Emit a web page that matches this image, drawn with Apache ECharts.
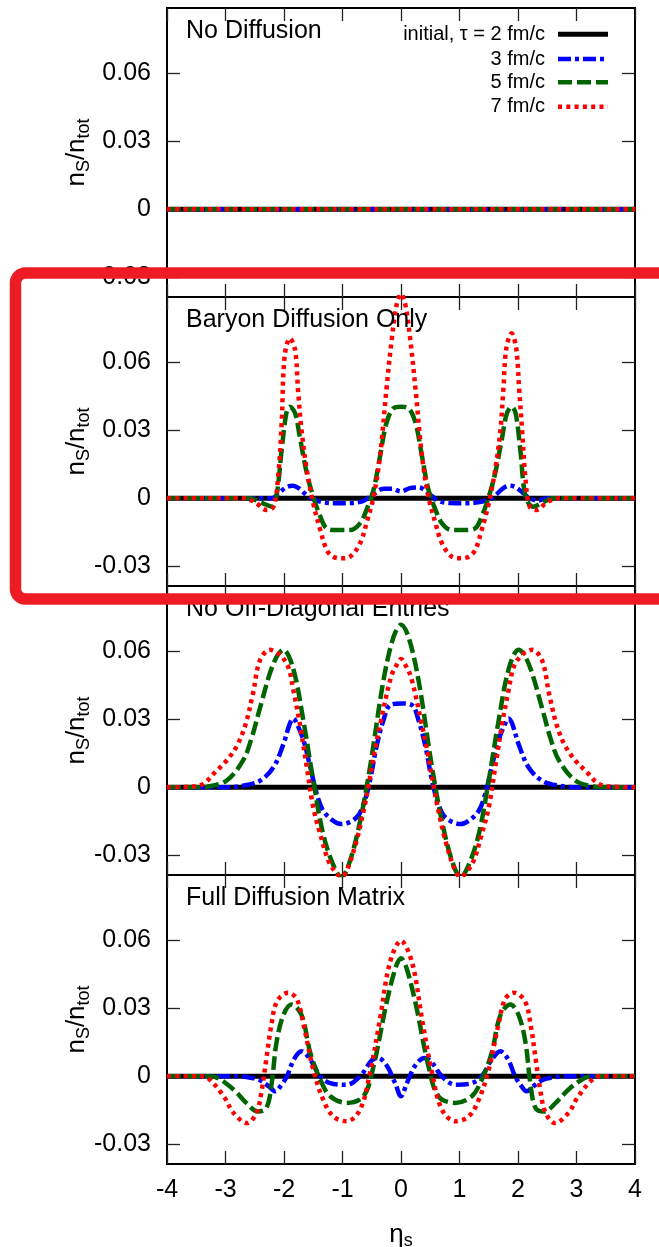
<!DOCTYPE html>
<html><head><meta charset="utf-8">
<script src="https://cdn.jsdelivr.net/npm/echarts@6/dist/echarts.min.js"></script>
<style>html,body{margin:0;padding:0;background:#fff}#c{width:659px;height:1247px}</style>
</head><body><div id="c"></div>
<script>
// ---------- data ----------
const panelTitles = ['No Diffusion', 'Baryon Diffusion Only', 'No Off-Diagonal Entries', 'Full Diffusion Matrix'];
const legendLabels = ['initial, \u03c4 = 2 fm/c', '3 fm/c', '5 fm/c', '7 fm/c'];
const xTicks = [-4, -3, -2, -1, 0, 1, 2, 3, 4];
const yTicks = [-0.03, 0, 0.03, 0.06];

// initial condition (tau = 2 fm/c) is zero everywhere in every panel
const initialZero = [[-4, 0], [4, 0]];

// Panel 1: No Diffusion
const noDiff3 = [[-4, 0], [4, 0]];
const noDiff5 = [[-4, 0], [4, 0]];
const noDiff7 = [[-4, 0], [4, 0]];

// Panel 2: Baryon Diffusion Only
const bar3 = [[-4,0],[-2.4,0],[-2.2,0],[-2.08,0.0025],[-1.95,0.005],[-1.85,0.0055],[-1.75,0.0045],[-1.62,0.0015],[-1.5,-0.0005],[-1.32,-0.0018],[-1.1,-0.0022],[-0.85,-0.0021],[-0.65,-0.0012],[-0.5,0.0012],[-0.3,0.0042],[-0.15,0.0042],[0,0.003],[0.15,0.0045],[0.3,0.0048],[0.5,0.0015],[0.65,-0.0012],[0.85,-0.0021],[1.1,-0.0022],[1.32,-0.0018],[1.5,-0.0005],[1.62,0.0015],[1.75,0.0045],[1.85,0.0055],[1.95,0.005],[2.08,0.0025],[2.2,0],[2.35,-0.001],[2.5,0],[4,0]];
const bar5 = [[-4,0],[-2.6,0],[-2.36,-0.0022],[-2.21,-0.0037],[-2.13,0.0007],[-2.04,0.0212],[-1.96,0.0374],[-1.9,0.0403],[-1.81,0.0374],[-1.73,0.027],[-1.61,0.011],[-1.5,0.0007],[-1.38,-0.008],[-1.27,-0.0132],[-1.1,-0.014],[-0.87,-0.014],[-0.7,-0.011],[-0.59,-0.0051],[-0.47,0.0037],[-0.36,0.0183],[-0.25,0.033],[-0.13,0.0396],[0,0.0403],[0.13,0.0396],[0.25,0.033],[0.36,0.0183],[0.47,0.0037],[0.59,-0.0051],[0.7,-0.011],[0.87,-0.014],[1.1,-0.014],[1.27,-0.0132],[1.38,-0.008],[1.5,0.0007],[1.61,0.011],[1.73,0.027],[1.81,0.0374],[1.89,0.0403],[1.96,0.0374],[2.04,0.0212],[2.13,0.0007],[2.26,-0.0037],[2.4,-0.0022],[2.6,0],[4,0]];
const bar7 = [[-4,0],[-2.7,0],[-2.55,-0.001],[-2.47,-0.0022],[-2.3,-0.0051],[-2.18,-0.0037],[-2.1,0.0095],[-2.04,0.033],[-1.99,0.0623],[-1.9,0.0704],[-1.81,0.0652],[-1.76,0.0476],[-1.7,0.0301],[-1.61,0.0125],[-1.5,-0.0022],[-1.38,-0.0139],[-1.27,-0.0227],[-1.16,-0.0257],[-1.01,-0.0264],[-0.87,-0.0257],[-0.7,-0.0198],[-0.59,-0.011],[-0.47,0.0006],[-0.36,0.0183],[-0.25,0.0476],[-0.16,0.0696],[-0.07,0.0858],[0,0.09],[0.07,0.0858],[0.16,0.0696],[0.25,0.0476],[0.36,0.0183],[0.47,0.0006],[0.59,-0.011],[0.7,-0.0198],[0.87,-0.0257],[1.01,-0.0264],[1.16,-0.0257],[1.27,-0.0227],[1.38,-0.0139],[1.5,-0.0022],[1.61,0.0125],[1.7,0.0301],[1.75,0.048],[1.8,0.066],[1.89,0.0726],[1.97,0.066],[2.02,0.048],[2.07,0.03],[2.13,0.008],[2.2,-0.0037],[2.32,-0.0051],[2.47,-0.0022],[2.55,-0.001],[2.7,0],[4,0]];

// Panel 3: No Off-Diagonal Entries
const nod3 = [[-4,0],[-3,0],[-2.7,0.0007],[-2.41,0.0029],[-2.18,0.0088],[-2.01,0.019],[-1.9,0.028],[-1.84,0.0303],[-1.78,0.028],[-1.66,0.0201],[-1.55,0.0088],[-1.44,-0.0029],[-1.33,-0.0103],[-1.16,-0.0147],[-1.02,-0.0162],[-0.76,-0.0133],[-0.64,-0.0074],[-0.53,0.003],[-0.42,0.0177],[-0.3,0.0295],[-0.19,0.0361],[0,0.0369],[0.19,0.0361],[0.3,0.0295],[0.42,0.0177],[0.53,0.003],[0.64,-0.0074],[0.76,-0.0133],[1.02,-0.0162],[1.16,-0.0147],[1.33,-0.0103],[1.44,-0.0029],[1.55,0.0088],[1.66,0.0201],[1.78,0.028],[1.84,0.0303],[1.9,0.028],[2.01,0.019],[2.18,0.0088],[2.41,0.0029],[2.7,0.0007],[3,0],[4,0]];
const nod5 = [[-4,0],[-3.5,0],[-3.31,0.0003],[-2.98,0.003],[-2.7,0.0118],[-2.55,0.022],[-2.41,0.035],[-2.18,0.0545],[-2.01,0.0605],[-1.84,0.052],[-1.66,0.028],[-1.5,0.003],[-1.33,-0.0206],[-1.16,-0.034],[-1.02,-0.0395],[-0.88,-0.033],[-0.7,-0.015],[-0.53,0.0088],[-0.3,0.047],[-0.13,0.066],[0,0.0715],[0.13,0.066],[0.3,0.047],[0.53,0.0088],[0.7,-0.015],[0.88,-0.033],[1.02,-0.0395],[1.16,-0.034],[1.33,-0.0206],[1.5,0.003],[1.66,0.028],[1.84,0.052],[2.01,0.0605],[2.18,0.0545],[2.41,0.035],[2.55,0.022],[2.7,0.0118],[2.98,0.003],[3.31,0.0003],[3.5,0],[4,0]];
const nod7 = [[-4,0],[-3.6,0.0003],[-3.38,0.0015],[-3.18,0.0066],[-2.98,0.0118],[-2.8,0.0185],[-2.66,0.0275],[-2.53,0.0413],[-2.41,0.056],[-2.24,0.0605],[-2.07,0.0583],[-1.93,0.0532],[-1.84,0.0428],[-1.73,0.028],[-1.61,0.0088],[-1.5,-0.0088],[-1.38,-0.0206],[-1.24,-0.0324],[-1.1,-0.038],[-1.02,-0.0395],[-0.93,-0.0369],[-0.76,-0.0236],[-0.64,-0.0103],[-0.56,0],[-0.45,0.016],[-0.34,0.0295],[-0.17,0.0486],[-0.06,0.0545],[0,0.0565],[0.06,0.0545],[0.17,0.0486],[0.34,0.0295],[0.45,0.016],[0.56,0],[0.64,-0.0103],[0.76,-0.0236],[0.93,-0.0369],[1.02,-0.0395],[1.1,-0.038],[1.24,-0.0324],[1.38,-0.0206],[1.5,-0.0088],[1.61,0.0088],[1.73,0.028],[1.84,0.0428],[1.93,0.0532],[2.07,0.0583],[2.24,0.0605],[2.41,0.056],[2.53,0.0413],[2.66,0.0275],[2.8,0.0185],[2.98,0.0118],[3.18,0.0066],[3.38,0.0015],[3.6,0.0003],[4,0]];

// Panel 4: Full Diffusion Matrix
const full3 = [[-4,0],[-2.8,0],[-2.6,-0.0005],[-2.43,-0.0015],[-2.26,-0.0044],[-2.15,-0.0066],[-2.05,-0.004],[-1.95,0],[-1.83,0.0075],[-1.7,0.011],[-1.55,0.0073],[-1.38,0],[-1.21,-0.003],[-0.93,-0.0037],[-0.7,0],[-0.5,0.007],[-0.4,0.0081],[-0.25,0.005],[-0.1,-0.003],[0,-0.0088],[0.1,-0.003],[0.25,0.005],[0.4,0.0081],[0.5,0.007],[0.7,0],[0.93,-0.0037],[1.21,-0.003],[1.38,0],[1.55,0.0073],[1.7,0.011],[1.83,0.0075],[1.95,0],[2.05,-0.004],[2.15,-0.0066],[2.26,-0.0044],[2.43,-0.0015],[2.6,-0.0005],[2.8,0],[4,0]];
const full5 = [[-4,0],[-3.3,0],[-3.14,-0.0007],[-2.86,-0.0059],[-2.64,-0.0118],[-2.45,-0.0155],[-2.3,-0.0139],[-2.21,-0.003],[-2.13,0.0146],[-2.01,0.027],[-1.87,0.0316],[-1.7,0.027],[-1.55,0.0103],[-1.38,-0.0015],[-1.21,-0.0088],[-0.93,-0.0117],[-0.64,-0.0088],[-0.47,0.0044],[-0.25,0.032],[-0.09,0.048],[0,0.052],[0.09,0.048],[0.25,0.032],[0.47,0.0044],[0.64,-0.0088],[0.93,-0.0117],[1.21,-0.0088],[1.38,-0.0015],[1.55,0.0103],[1.7,0.027],[1.87,0.0316],[2.01,0.027],[2.13,0.0146],[2.21,-0.003],[2.3,-0.0139],[2.45,-0.0155],[2.64,-0.0118],[2.86,-0.0059],[3.14,-0.0007],[3.3,0],[4,0]];
const full7 = [[-4,0],[-3.45,0],[-3.3,-0.0008],[-3.03,-0.0088],[-2.86,-0.0162],[-2.63,-0.0206],[-2.47,-0.016],[-2.38,-0.006],[-2.3,0.008],[-2.22,0.022],[-2.12,0.033],[-1.93,0.0368],[-1.78,0.034],[-1.66,0.022],[-1.5,0.003],[-1.33,-0.0103],[-1.16,-0.0176],[-0.93,-0.0198],[-0.7,-0.0147],[-0.53,0.0015],[-0.36,0.025],[-0.19,0.05],[0,0.0596],[0.19,0.05],[0.36,0.025],[0.53,0.0015],[0.7,-0.0147],[0.93,-0.0198],[1.16,-0.0176],[1.33,-0.0103],[1.5,0.003],[1.66,0.022],[1.78,0.034],[1.93,0.0368],[2.12,0.033],[2.22,0.022],[2.3,0.008],[2.38,-0.006],[2.47,-0.016],[2.63,-0.0206],[2.86,-0.0162],[3.03,-0.0088],[3.3,-0.0008],[3.45,0],[4,0]];

const panelData = [
  [initialZero, noDiff3, noDiff5, noDiff7],
  [initialZero, bar3, bar5, bar7],
  [initialZero, nod3, nod5, nod7],
  [initialZero, full3, full5, full7]
];

// ---------- styles ----------
const FONT = 'Liberation Sans';
const colors = ['#000000', '#0000ff', '#006400', '#ff0000'];
const widths = [5, 4.5, 4.5, 4.5];
const dashes = ['solid', [13, 4, 4, 4], [14, 5], [4, 4.3]];
const GL = 167, GW = 468, GH = 289;
const tops = [8, 297, 586, 875];

const grids = [], xAxes = [], yAxes = [], series = [], titles = [];
const tickStyle = { color: '#222', width: 1.3 };

tops.forEach((t, i) => {
  grids.push({ left: GL, top: t, width: GW, height: GH, show: true, borderColor: '#000', borderWidth: 2,
    backgroundColor: 'transparent', containLabel: false, outerBoundsMode: 'none' });
  const xBase = { gridIndex: i, type: 'value', min: -4, max: 4, interval: 1,
    axisLine: { show: false, onZero: false }, splitLine: { show: false },
    axisTick: { show: true, inside: true, length: 13, lineStyle: tickStyle } };
  xAxes.push(Object.assign({}, xBase, { position: 'bottom',
    axisLabel: { show: i === 3, color: '#000', fontSize: 25, fontFamily: FONT, margin: 14,
      customValues: xTicks, formatter: v => String(v) },
    name: i === 3 ? '{e|\u03b7}{s|s}' : '', nameLocation: 'middle', nameGap: 56, nameMoveOverlap: false,
    nameTextStyle: { rich: { e: { fontSize: 26, fontFamily: FONT, color: '#000', lineHeight: 30, verticalAlign: 'middle' },
      s: { fontSize: 18, fontFamily: FONT, color: '#000', lineHeight: 14, verticalAlign: 'bottom' } } } }));
  xAxes.push(Object.assign({}, xBase, { position: 'top', axisLabel: { show: false } }));
  const yBase = { gridIndex: i, type: 'value', min: -0.0386, max: 0.0886,
    axisLine: { show: false, onZero: false }, splitLine: { show: false },
    axisTick: { show: true, inside: true, length: 13, lineStyle: tickStyle, customValues: yTicks } };
  yAxes.push(Object.assign({}, yBase, { position: 'left',
    axisLabel: { show: true, color: '#000', fontSize: 25, fontFamily: FONT, margin: 16,
      customValues: yTicks, formatter: v => (Math.abs(v) < 1e-9 ? '0' : v.toFixed(2)) },
    name: '{n|n}{s|S}{n|/n}{s|tot}', nameLocation: 'middle', nameGap: 74, nameRotate: 90, nameMoveOverlap: false,
    nameTextStyle: { rich: { n: { fontSize: 26, fontFamily: FONT, color: '#000', lineHeight: 32, verticalAlign: 'middle' },
      s: { fontSize: 18, fontFamily: FONT, color: '#000', lineHeight: 14, verticalAlign: 'bottom' } } } }));
  yAxes.push(Object.assign({}, yBase, { position: 'right', axisLabel: { show: false } }));

  titles.push({ text: panelTitles[i], left: 186, top: t + 11, padding: 0,
    textStyle: { fontSize: 25, fontWeight: 'normal', fontFamily: FONT, color: '#000' } });

  panelData[i].forEach((d, k) => {
    series.push({ type: 'line', xAxisIndex: 2 * i, yAxisIndex: 2 * i, data: d,
      name: legendLabels[k], showSymbol: false, symbol: 'none', smooth: 0.35, silent: true,
      z: 2 + k, clip: true,
      lineStyle: { color: colors[k], width: widths[k], type: dashes[k], cap: 'butt', join: 'round' } });
  });
});

// legend (drawn as graphics), plus the red highlight frame
const legendRows = [34.3, 59, 82.3, 106.7];
const graphics = [];
legendLabels.forEach((lab, k) => {
  graphics.push({ type: 'text', x: 545, y: legendRows[k], z: 50,
    style: { text: lab, fontSize: 20, fontFamily: FONT, fill: '#000', align: 'right', verticalAlign: 'middle', textAlign: 'right', textVerticalAlign: 'middle' } });
  graphics.push({ type: 'line', z: 50,
    shape: { x1: 558, y1: legendRows[k], x2: 608, y2: legendRows[k] },
    style: { stroke: colors[k], lineWidth: widths[k], lineDash: dashes[k] === 'solid' ? null : dashes[k], lineCap: 'butt' } });
});
graphics.push({ type: 'rect', z: 100,
  shape: { x: 15.5, y: 273, width: 700, height: 326, r: 10 },
  style: { fill: 'none', stroke: '#ed1c24', lineWidth: 11.5 } });

const chart = echarts.init(document.getElementById('c'), null, { renderer: 'canvas' });
chart.setOption({
  animation: false,
  backgroundColor: '#ffffff',
  textStyle: { fontFamily: FONT },
  title: titles,
  grid: grids,
  xAxis: xAxes,
  yAxis: yAxes,
  series: series,
  graphic: graphics
});
</script></body></html>
